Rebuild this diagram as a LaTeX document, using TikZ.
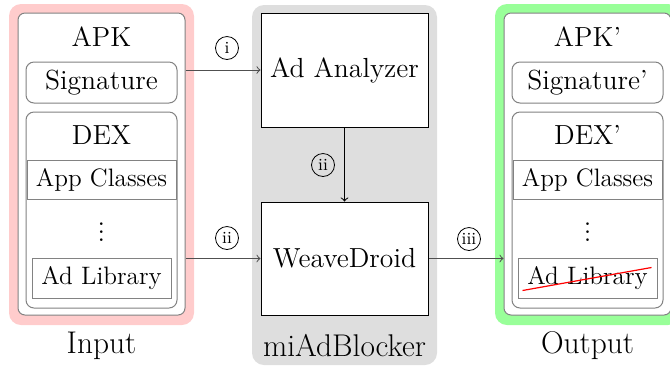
\documentclass[tikz,border=0pt]{standalone}
\usetikzlibrary{fit,calc}
\definecolor{pinkbg}{RGB}{255,204,204}
\definecolor{greenbg}{RGB}{153,255,153}
\definecolor{graybg}{RGB}{222,222,222}
\definecolor{boxgray}{RGB}{130,130,130}
\definecolor{arrowgray}{RGB}{80,80,80}
\tikzset{
  bg/.style={inner sep=0pt, rounded corners=6pt},
  apkbox/.style={inner sep=0pt, draw=boxgray, fill=white, rounded corners=3.5pt, line width=0.5pt},
  part/.style={inner sep=0pt, draw=boxgray, rounded corners=4pt, line width=0.5pt},
  cls/.style={inner sep=0pt, draw=boxgray, line width=0.5pt},
  clstext/.style={font=\fontsize{12.6}{14}\selectfont},
  big/.style={font=\fontsize{13.8}{16}\selectfont},
  title/.style={font=\fontsize{15.7}{18}\selectfont},
  proc/.style={inner sep=0pt, draw=black, fill=white, line width=0.5pt},
  flow/.style={->, draw=arrowgray, line width=0.5pt},
  num/.style={draw=black, circle, inner sep=0pt, minimum size=11.5pt, line width=0.4pt, font=\fontsize{8.5}{9}\selectfont}
}
\begin{document}
\begin{tikzpicture}[x=0.5pt, y=-0.5pt]
\useasboundingbox (0,0) rectangle (670,366);
% backgrounds
\node[bg, fill=pinkbg, fit={(9,4)(194,325)}] (pink) {};
\node[bg, fill=greenbg, fit={(495,4)(680,325)}] (green) {};
\node[bg, fill=graybg, fit={(252,5)(437,365)}] (grayb) {};
% input APK
\node[apkbox, fit={(18,13)(185,315)}] (apk) {};
\node[big] (apkl) at (101.5,37) {APK};
\node[part, fit={(26,62)(177,103)}] (sig) {};
\node[big] (sigl) at (sig.center) {Signature};
\node[part, fit={(26,112)(177,308)}] (dex) {};
\node[big] (dexl) at (101.5,135) {DEX};
\node[cls, fit={(27,160)(176,199)}] (app) {};
\node[clstext] (appl) at (app.center) {App Classes};
\node[big] (dots) at (101.5,226) {$\vdots$};
\node[cls, fit={(32,258)(171,298)}] (adlib) {};
\node[clstext] (adlibl) at (adlib.center) {Ad Library};
\node[title] (inl) at (101.5,346) {Input};
% output APK
\node[apkbox, fit={(504,13)(671,315)}] (apk2) {};
\node[big] (apkl2) at (587.5,37) {APK'};
\node[part, fit={(512,62)(663,103)}] (sig2) {};
\node[big] (sigl2) at (sig2.center) {Signature'};
\node[part, fit={(512,112)(663,308)}] (dex2) {};
\node[big] (dexl2) at (587.5,135) {DEX'};
\node[cls, fit={(513,160)(662,199)}] (app2) {};
\node[clstext] (appl2) at (app2.center) {App Classes};
\node[big] (dots2) at (587.5,226) {$\vdots$};
\node[cls, fit={(518,258)(657,298)}] (adlib2) {};
\node[clstext] (adlibl2) at (adlib2.center) {Ad Library};
\draw[red, line width=0.6pt] ([shift={(5,-8)}]adlib2.south west) -- ([shift={(-6,10)}]adlib2.north east);
\node[title] (outl) at (587.5,346) {Output};
% miAdBlocker
\node[proc, fit={(261,13)(428,127)}] (ana) {};
\node[big] (anal) at (ana.center) {Ad Analyzer};
\node[proc, fit={(261,202)(428,315)}] (weave) {};
\node[big] (weavel) at (weave.center) {WeaveDroid};
\node[title] (mil) at (344.5,346) {miAdBlocker};
% connectors
\draw[flow] (apk.east |- ana) -- (ana);
\draw[flow] (apk.east |- weave) -- (weave);
\draw[flow, draw=black] (ana) -- (weave);
\draw[flow] (weave) -- (apk2.west |- weave);
\node[num] (n1) at (227,48) {i};
\node[num] (n2) at (227,238) {ii};
\node[num] (n3) at (323,165) {ii};
\node[num] (n4) at (469,239) {iii};
\end{tikzpicture}
\end{document}
